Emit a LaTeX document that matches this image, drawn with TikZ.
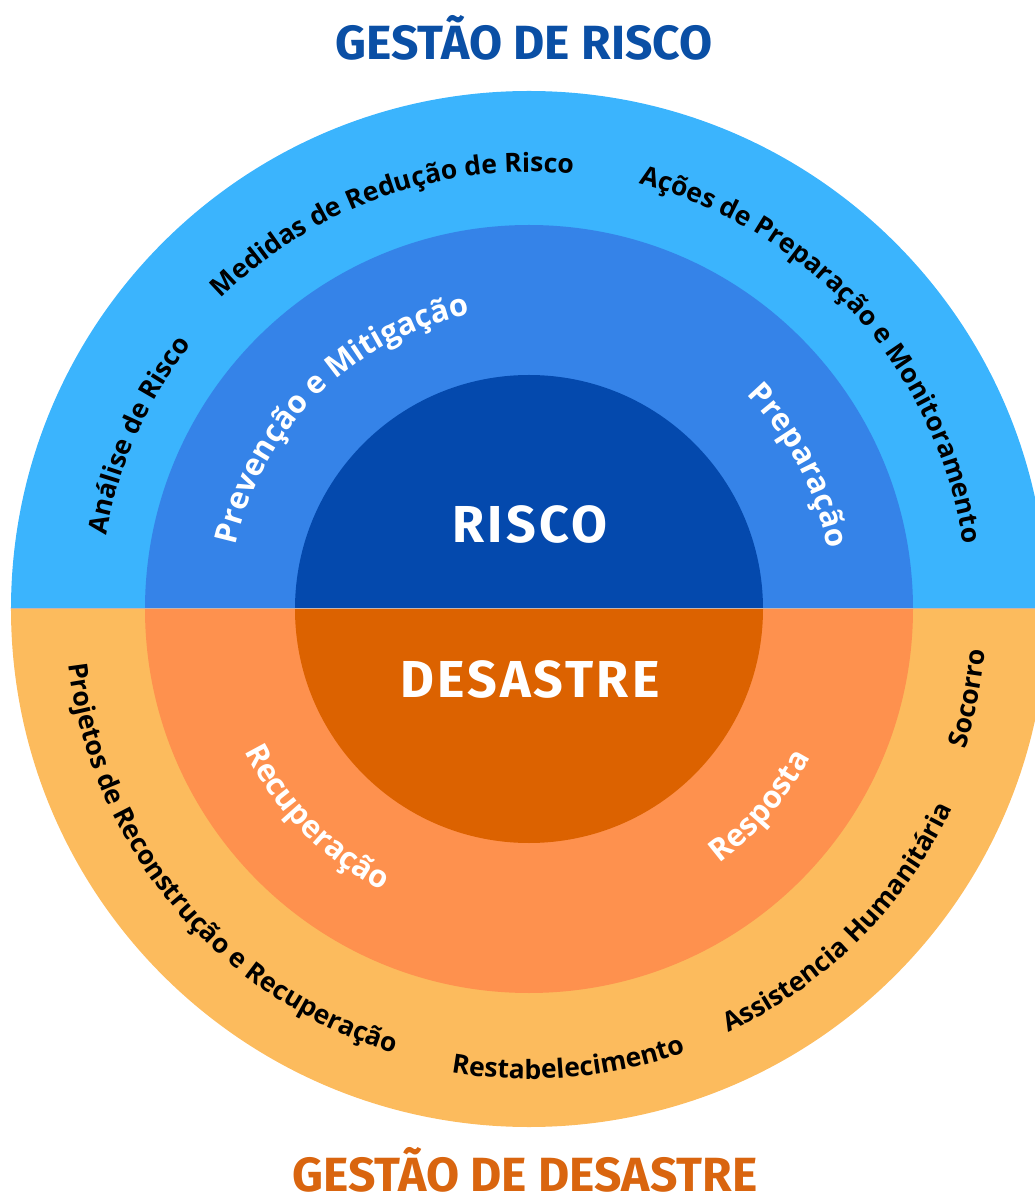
\documentclass[tikz,border=0pt]{standalone}
\usepackage{fontspec}
\setmainfont{Open Sans}
\newfontfamily\headfont{Fira Sans}
\newfontfamily\corefont{Fira Sans}[LetterSpace=6]
\usetikzlibrary{decorations.text}

\definecolor{riskouter}{HTML}{3BB4FD}
\definecolor{riskmid}{HTML}{3583E8}
\definecolor{riskinner}{HTML}{0449AD}
\definecolor{disouter}{HTML}{FCBB5D}
\definecolor{dismid}{HTML}{FE914E}
\definecolor{disinner}{HTML}{DC6200}
\definecolor{riskhead}{HTML}{0A4FA5}
\definecolor{dishead}{HTML}{D9650F}
\definecolor{seam}{HTML}{C8B4AA}

\newcommand{\blacklab}{\fontsize{26.5}{26.5}\selectfont\bfseries\color{black}}
\newcommand{\whitelab}{\fontsize{31}{31}\selectfont\bfseries\color{white}}

% text on the upper half runs clockwise, on the lower half counter-clockwise
\newcommand{\uparc}[4]{%
  \path[decorate, decoration={text along path, text align=center, text={|#1|#4}}]
    (#3+55:#2) arc[start angle=#3+55, end angle=#3-55, radius=#2];}
\newcommand{\downarc}[4]{%
  \path[decorate, decoration={text along path, text align=center, text={|#1|#4}}]
    (#3-55:#2) arc[start angle=#3-55, end angle=#3+55, radius=#2];}

\tikzset{
  headline/.style={font=\headfont\bfseries\fontsize{48}{48}\selectfont, anchor=base},
  corelabel/.style={font=\corefont\bfseries\fontsize{52}{52}\selectfont, text=white, anchor=base}
}

\begin{document}
\begin{tikzpicture}[x=1pt, y=1pt]
    \useasboundingbox (-529,-590) rectangle (506,609);
    \fill[riskouter] (518,0) arc[start angle=0, end angle=180, radius=518] -- cycle;
    \fill[riskmid] (384,0) arc[start angle=0, end angle=180, radius=384] -- cycle;
    \fill[riskinner] (234,0) arc[start angle=0, end angle=180, radius=234] -- cycle;
    \fill[disouter] (518,0) arc[start angle=0, end angle=-180, radius=518] -- cycle;
    \fill[dismid] (384,0) arc[start angle=0, end angle=-180, radius=384] -- cycle;
    \fill[disinner] (234,0) arc[start angle=0, end angle=-180, radius=234] -- cycle;
    \draw[line width=1pt, seam] (-518,0) -- (518,0);

    \node[headline, text=riskhead] (riskhead) at (-5,549) {GESTÃO DE RISCO};
    \node[headline, text=dishead] (dishead) at (-4,-582) {GESTÃO DE DESASTRE};
    \node[corelabel] (risco) at (1,66) {RISCO};
    \node[corelabel] (desastre) at (1,-88) {DESASTRE};

    \uparc{\blacklab}{429}{156}{Análise de Risco}
    \uparc{\blacklab}{437}{109.5}{Medidas de Redução de Risco}
    \uparc{\blacklab}{439}{42}{Ações de Preparação e Monitoramento}
    \uparc{\whitelab}{300}{134.5}{Prevenção e Mitigação}
    \uparc{\whitelab}{305}{28}{Preparação}

    \downarc{\blacklab}{464}{220}{Projetos de Reconstrução e Recuperação}
    \downarc{\blacklab}{470}{275}{Restabelecimento}
    \downarc{\blacklab}{468}{315}{Assistencia Humanitária}
    \downarc{\blacklab}{458}{348.5}{Socorro}
    \downarc{\whitelab}{318}{224.5}{Recuperação}
    \downarc{\whitelab}{318}{319.5}{Resposta}
\end{tikzpicture}
\end{document}
